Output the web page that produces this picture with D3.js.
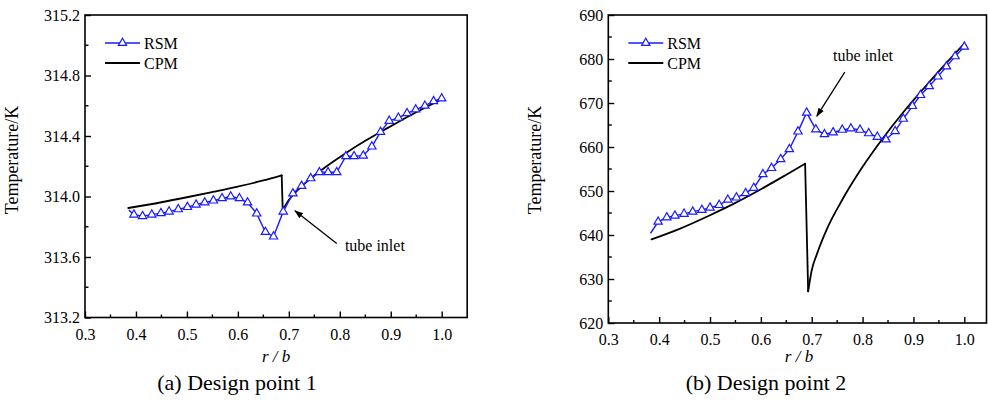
<!DOCTYPE html>
<html><head><meta charset="utf-8">
<script src="https://cdn.jsdelivr.net/npm/d3@7"></script>
<style>
body{margin:0;background:#fff;}
svg text{font-family:"Liberation Serif","Times New Roman",Times,"DejaVu Serif",serif !important;fill:#000;}
</style></head>
<body><svg id="c" width="988" height="408"></svg>
<script>
// ---- Data: panel (a) Design point 1 ----
const rsmR1 = [0.386,0.396,0.413,0.431,0.449,0.465,0.483,0.501,0.518,0.535,0.552,0.569,0.586,0.603,0.619,0.637,0.654,0.670,0.689,0.708,0.725,0.743,0.760,0.777,0.794,0.812,0.828,0.846,0.863,0.880,0.897,0.915,0.932,0.949,0.967,0.984,1.0];
const rsmT1 = [313.91,313.88,313.87,313.88,313.89,313.90,313.915,313.93,313.946,313.96,313.973,313.988,314.00,313.988,313.96,313.887,313.765,313.735,313.90,314.02,314.07,314.12,314.16,314.16,314.16,314.266,314.266,314.27,314.33,314.427,314.50,314.52,314.55,314.575,314.60,314.63,314.648];
const cpmR1 = [0.385,0.45,0.5,0.55,0.6,0.65,0.686,0.688,0.70,0.72,0.743,0.77,0.81,0.85,0.887,0.92,0.95,0.975,1.0];
const cpmT1 = [313.924,313.962,313.995,314.03,314.066,314.106,314.14,313.91,313.977,314.051,314.12,314.19,314.283,314.368,314.44,314.503,314.557,314.601,314.644];
const yTicks1 = [313.2,313.6,314.0,314.4,314.8,315.2];
// ---- Data: panel (b) Design point 2 ----
const rsmR2 = [0.383,0.398,0.415,0.431,0.449,0.466,0.484,0.500,0.518,0.535,0.552,0.570,0.586,0.604,0.621,0.639,0.656,0.673,0.690,0.708,0.725,0.742,0.760,0.777,0.795,0.812,0.829,0.846,0.864,0.880,0.898,0.914,0.931,0.948,0.965,0.982,1.0];
const rsmT2 = [640.4,643.0,644.0,644.4,644.8,645.3,645.7,646.2,646.8,648.0,648.5,649.5,650.7,653.8,655.2,657.2,659.5,663.5,667.8,664.0,662.9,663.3,663.9,664.2,663.9,663.1,662.3,661.7,663.6,666.4,669.3,671.8,673.8,676.0,678.3,680.6,682.8];
const cpmR2 = [0.385,0.44,0.5,0.55,0.6,0.65,0.687,0.693,0.70,0.71,0.73,0.76,0.80,0.84,0.88,0.92,0.96,1.0];
const cpmT2 = [639.0,641.4,644.5,647.3,650.4,653.7,656.2,627.2,632.0,635.6,641.4,648.0,655.5,662.0,667.9,673.3,678.5,683.5];
const yTicks2 = [620,630,640,650,660,670,680,690];
const xTicks = [0.3,0.4,0.5,0.6,0.7,0.8,0.9,1.0];
const seriesNames = ["RSM","CPM"];
const captions = ["(a) Design point 1","(b) Design point 2"];
const annotText = "tube inlet";
// annotation arrows in data coords: [tailR, tailT, tipR, tipT, textR, textT]
const annot1 = [0.794,313.69,0.712,313.906,0.810,313.64];
const annot2 = [0.765,677.0,0.710,667.0,0.742,679.5];

const FONT = '"Liberation Serif","Times New Roman",Times,"DejaVu Serif",serif';
const svg = d3.select("#c");
const defs = svg.append("defs");
defs.append("marker").attr("id","arr").attr("viewBox","0 0 10 10").attr("refX",9).attr("refY",5)
  .attr("markerWidth",9).attr("markerHeight",9).attr("orient","auto-start-reverse")
  .attr("markerUnits","userSpaceOnUse")
  .append("path").attr("d","M0,1.5 L10,5 L0,8.5 Z").attr("fill","#000");

function panel(o){
  const g = svg.append("g").attr("font-family",FONT);
  const x = d3.scaleLinear().domain([0.3,1.05]).range([o.left,o.left+(0.75/0.7)*o.w1]);
  const y = d3.scaleLinear().domain(o.yDom).range([o.bottom,o.top]);
  const right = Math.min(x(1.05), 986.5);
  g.append("rect").attr("x",o.left).attr("y",o.top).attr("width",right-o.left).attr("height",o.bottom-o.top)
   .attr("fill","none").attr("stroke","#000").attr("stroke-width",1.6);
  const xMinor = d3.range(0.35,1.04,0.1);
  const xa = d3.axisBottom(x).tickValues(xTicks).tickFormat(d3.format(".1f")).tickSize(-6).tickPadding(11);
  const gx = g.append("g").attr("transform",`translate(0,${o.bottom})`).call(xa).attr("font-family",FONT).attr("font-size",16);
  gx.select(".domain").remove();
  gx.selectAll("line").attr("stroke","#000").attr("stroke-width",1.4);
  gx.selectAll("text").style("font-family",FONT).style("font-size","16px");
  g.append("g").selectAll("line").data(xMinor).join("line")
   .attr("x1",d=>x(d)).attr("x2",d=>x(d)).attr("y1",o.bottom).attr("y2",o.bottom-3)
   .attr("stroke","#000").attr("stroke-width",1.4);
  const ya = d3.axisLeft(y).tickValues(o.yTicks).tickFormat(o.yFmt).tickSize(-6).tickPadding(5);
  const gy = g.append("g").attr("transform",`translate(${o.left},0)`).call(ya).attr("font-family",FONT).attr("font-size",16);
  gy.select(".domain").remove();
  gy.selectAll("line").attr("stroke","#000").attr("stroke-width",1.4);
  gy.selectAll("text").style("font-family",FONT).style("font-size","16px");
  const yMinor = o.yTicks.slice(0,-1).map((d,i)=>(d+o.yTicks[i+1])/2);
  g.append("g").selectAll("line").data(yMinor).join("line")
   .attr("x1",o.left).attr("x2",o.left+3.5).attr("y1",d=>y(d)).attr("y2",d=>y(d))
   .attr("stroke","#000").attr("stroke-width",1.4);
  g.append("text").attr("transform",`translate(${o.left-67},160) rotate(-90)`).attr("text-anchor","middle")
   .style("font-size","18px").text("Temperature/K");
  g.append("text").attr("x",(o.left+x(1.05))/2).attr("y",362).attr("text-anchor","middle")
   .style("font-size","17px").attr("font-style","italic").text("r / b");
  g.append("text").attr("x",o.capX).attr("y",390).attr("text-anchor","middle").style("font-size","22px").text(o.caption);
  // CPM: smooth pieces on each side of the tube-inlet drop, straight drop between
  const cpm = o.cpmR.map((r,i)=>[r,o.cpmT[i]]);
  let k = 1; while (k < cpm.length && cpm[k][1] >= cpm[k-1][1]) k++;
  const pieces = [cpm.slice(0,k), [cpm[k-1],cpm[k]], cpm.slice(k)];
  const lc = d3.line().x(d=>x(d[0])).y(d=>y(d[1])).curve(d3.curveMonotoneX);
  const ll = d3.line().x(d=>x(d[0])).y(d=>y(d[1]));
  g.append("g").selectAll("path").data(pieces).join("path")
   .attr("fill","none").attr("stroke","#000").attr("stroke-width",1.8).attr("stroke-linecap","round")
   .attr("d",(d,i)=> i===1 ? ll(d) : lc(d));
  const rsm = o.rsmR.map((r,i)=>[r,o.rsmT[i]]);
  const blue = "#1a1aff";
  g.append("path").datum(rsm).attr("fill","none").attr("stroke",blue).attr("stroke-width",1.4)
   .attr("d",d3.line().x(d=>x(d[0])).y(d=>y(d[1])));
  const tri = d3.symbol().type(d3.symbolTriangle).size(30);
  g.append("g").selectAll("path").data(rsm.slice(1)).join("path")
   .attr("transform",d=>`translate(${x(d[0])},${y(d[1])})`).attr("d",tri)
   .attr("fill","#fff").attr("stroke",blue).attr("stroke-width",1.2);
  const lx = o.left+20, ly1 = 43, ly2 = 63;
  g.append("line").attr("x1",lx).attr("x2",lx+35).attr("y1",ly1).attr("y2",ly1).attr("stroke",blue).attr("stroke-width",1.4);
  g.append("path").attr("transform",`translate(${lx+17.5},${ly1})`).attr("d",tri).attr("fill","#fff").attr("stroke",blue).attr("stroke-width",1.2);
  g.append("text").attr("x",lx+39).attr("y",ly1+5.5).style("font-size","16px").text(seriesNames[0]);
  g.append("line").attr("x1",lx).attr("x2",lx+35).attr("y1",ly2).attr("y2",ly2).attr("stroke","#000").attr("stroke-width",1.8);
  g.append("text").attr("x",lx+39).attr("y",ly2+5.5).style("font-size","16px").text(seriesNames[1]);
  const a = o.annot;
  g.append("line").attr("x1",x(a[0])).attr("y1",y(a[1])).attr("x2",x(a[2])).attr("y2",y(a[3]))
   .attr("stroke","#000").attr("stroke-width",1.3).attr("marker-end","url(#arr)");
  g.append("text").attr("x",x(a[4])).attr("y",y(a[5])).style("font-size","16px").text(annotText);
}

panel({left:85,w1:356.7,top:15,bottom:317.5,yDom:[313.2,315.2],yTicks:yTicks1,yFmt:d3.format(".1f"),
  rsmR:rsmR1,rsmT:rsmT1,cpmR:cpmR1,cpmT:cpmT1,annot:annot1,caption:captions[0],capX:237});
panel({left:608.3,w1:356,top:15,bottom:323,yDom:[620,690],yTicks:yTicks2,yFmt:d3.format("d"),
  rsmR:rsmR2,rsmT:rsmT2,cpmR:cpmR2,cpmT:cpmT2,annot:annot2,caption:captions[1],capX:766});
</script></body></html>
